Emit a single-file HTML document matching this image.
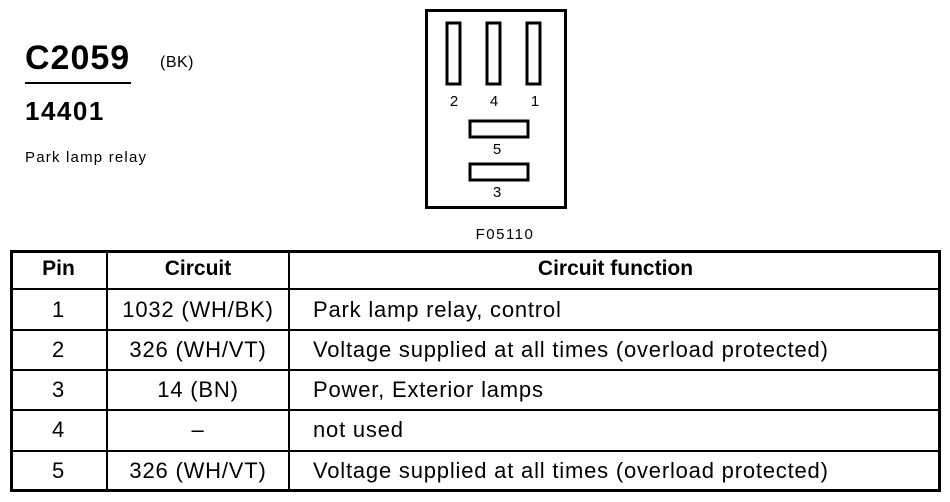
<!DOCTYPE html>
<html><head><style>
body{margin:0;width:950px;height:502px;background:#fff;position:relative;font-family:"Liberation Sans",Arial,sans-serif;overflow:hidden}
.a{position:absolute;color:#000;white-space:nowrap}
.t{position:absolute;font-size:22px;line-height:24px;white-space:nowrap;letter-spacing:0.8px}
.c1{left:10px;width:97px;text-align:center}
.c2{left:107px;width:182px;text-align:center}
.c3{left:313px}
.h{font-weight:bold;letter-spacing:0;font-size:21px}
.hl{position:absolute;left:10px;width:931px;height:2px;background:#000}
</style></head><body>
<div class="a" style="left:25px;top:39px;font-size:34px;font-weight:bold;letter-spacing:1px">C2059</div>
<div class="a" style="left:25px;top:82px;width:106px;height:2px;background:#000"></div>
<div class="a" style="left:160px;top:54px;font-size:16px;letter-spacing:0.5px">(BK)</div>
<div class="a" style="left:25px;top:96px;font-size:26px;font-weight:bold;letter-spacing:1.5px">14401</div>
<div class="a" style="left:25px;top:149px;font-size:15px;letter-spacing:1.2px">Park lamp relay</div>
<svg class="a" style="left:0;top:0" width="950" height="250">
<g fill="none" stroke="#000">
<rect x="426.5" y="10.5" width="139" height="197" stroke-width="3"/>
<rect x="447" y="23" width="13" height="61" stroke-width="3"/>
<rect x="487" y="23" width="13" height="61" stroke-width="3"/>
<rect x="527" y="23" width="13" height="61" stroke-width="3"/>
<rect x="470" y="121" width="58" height="16" stroke-width="3"/>
<rect x="470" y="164" width="58" height="16" stroke-width="3"/>
</g>
<g font-family="Liberation Sans,Arial,sans-serif" font-size="15" text-anchor="middle">
<text x="454" y="106">2</text><text x="494" y="106">4</text><text x="535" y="106">1</text>
<text x="497" y="154">5</text><text x="497" y="197">3</text>
<text x="505" y="239" letter-spacing="1.5">F05110</text>
</g>
</svg>
<div class="a" style="left:10px;top:250px;width:925px;height:236px;border:3px solid #000"></div>
<div class="a" style="left:106px;top:250px;width:2px;height:242px;background:#000"></div>
<div class="a" style="left:288px;top:250px;width:2px;height:242px;background:#000"></div>
<div class="hl" style="top:288px"></div>
<div class="hl" style="top:329px"></div>
<div class="hl" style="top:369px"></div>
<div class="hl" style="top:409px"></div>
<div class="hl" style="top:450px"></div>

<div class="t h c1" style="top:257px">Pin</div>
<div class="t h c2" style="top:257px">Circuit</div>
<div class="t h" style="left:290px;width:651px;text-align:center;top:257px">Circuit function</div>

<div class="t c1" style="top:298px">1</div><div class="t c2" style="top:298px">1032 (WH/BK)</div><div class="t c3" style="top:298px">Park lamp relay, control</div>
<div class="t c1" style="top:338px">2</div><div class="t c2" style="top:338px">326 (WH/VT)</div><div class="t c3" style="top:338px">Voltage supplied at all times (overload protected)</div>
<div class="t c1" style="top:378px">3</div><div class="t c2" style="top:378px">14 (BN)</div><div class="t c3" style="top:378px">Power, Exterior lamps</div>
<div class="t c1" style="top:418px">4</div><div class="t c2" style="top:418px">–</div><div class="t c3" style="top:418px">not used</div>
<div class="t c1" style="top:459px">5</div><div class="t c2" style="top:459px">326 (WH/VT)</div><div class="t c3" style="top:459px">Voltage supplied at all times (overload protected)</div>
</body></html>
